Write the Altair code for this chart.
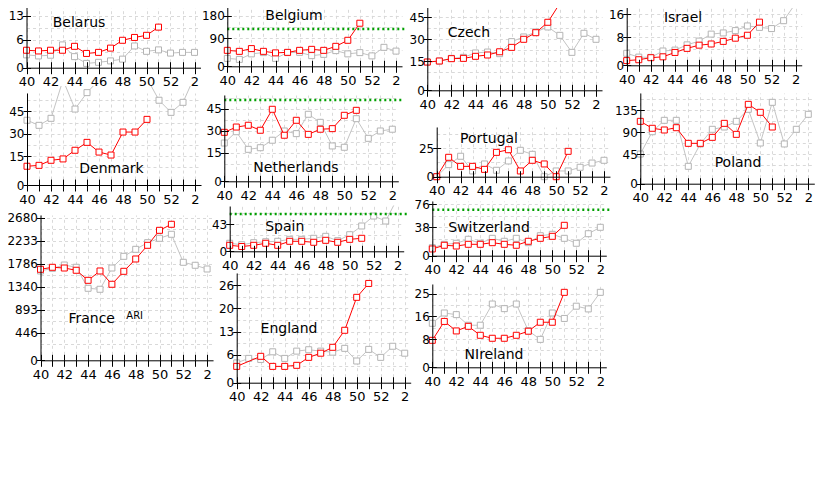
import altair as alt
import pandas as pd

W, H = 824, 464
M = 8          # page margin
XMAX = 14.5
FONT = "DejaVu Sans"
RED = "#ff0000"
GRAY_LINE = "#c4c4c4"
GRAY_PT = "#b4b4b4"
GREEN = "#00a000"
GRID = "#d9d9d9"

# week positions 0..14
WEEK_LABELS = ["40", "41", "42", "43", "44", "45", "46", "47", "48", "49",
               "50", "51", "52", "1", "2"]

# ---------------- data ----------------
BELARUS_RED = [3.7, 3.5, 3.7, 3.7, 4.8, 2.8, 3.1, 4.3, 6.5, 7.3, 7.9, 10.2]
BELARUS_GRAY = [2.4, 2.1, 2.3, 5.2, 1.9, 0.0, 0.3, 0.7, 1.2, 4.9, 3.4, 3.8, 2.9, 3.1, 3.1]

BELGIUM_RED = [42, 38, 49, 38, 32, 34, 42, 46, 42, 58, 82, 150]
BELGIUM_GRAY = [10, 6, 28, 33, 10, 33, 34, 21, 26, 41, 28, 33, 20, 54, 39]
BELGIUM_THR = 127

CZECH_RED = [14.5, 15.2, 16.8, 17.0, 18.4, 19.3, 21.5, 24.5, 30.0, 34.5, 41.6, 54.5]
CZECH_GRAY = [14.5, 15.2, 17.0, 17.7, 20.7, 21.3, 20.2, 28.4, 31.6, 35.0, 38.4, 32.7, 21.1, 34.1, 30.0]

ISRAEL_RED = [0.0, 0.3, 1.0, 1.3, 2.8, 4.2, 5.3, 5.7, 6.6, 7.7, 8.7, 13.2]
ISRAEL_GRAY = [2.5, 1.2, 1.1, 3.3, 3.6, 5.4, 6.7, 9.1, 9.5, 10.3, 11.9, 11.4, 11.0, 13.7, 19.7]

DENMARK_RED = [8.2, 8.8, 12.2, 13.1, 18.9, 24.2, 17.7, 15.7, 31.1, 31.1, 39.6]
DENMARK_GRAY = [39.0, 35.6, 40.3, 66, 46.5, 57.5, 66, 69, 70, 69, 67, 52.4, 44.3, 51.0, 69]

NETHERLANDS_RED = [28.9, 32.5, 33.7, 30.3, 44.6, 26.9, 37.1, 27.5, 31.0, 31.4, 40.5, 43.9]
NETHERLANDS_GRAY = [21.6, 29.3, 17.3, 18.4, 23.5, 29.8, 28.0, 41.2, 35.7, 19.6, 18.7, 38.2, 24.8, 29.8, 31.0]
NETHERLANDS_THR = 51

PORTUGAL_RED = [0, 16.9, 9.0, 9.0, 6.4, 21.2, 23.5, 5.0, 14.3, 11.1, 0, 22.1]
PORTUGAL_GRAY = [0, 10.5, 17.8, 5.0, 11.1, 5.6, 13.7, 23.0, 19.5, 0, 5.0, 5.0, 8.2, 11.9, 14.3]

POLAND_RED = [111.8, 97.6, 94.1, 98.8, 66.8, 66.8, 79.1, 107.7, 85.2, 146.6, 130.3, 100.2]
POLAND_GRAY = [45, 90.6, 113.9, 113.9, 19.8, 65.5, 95.5, 100.2, 111.8, 136.4, 67.5, 150.7, 65.5, 95.5, 126.2]

FRANCE_RED = [1678, 1717, 1703, 1659, 1464, 1645, 1387, 1639, 1878, 2144, 2435, 2552]
FRANCE_GRAY = [1645, 1697, 1761, 1717, 1309, 1290, 1703, 1930, 2066, 2195, 2280, 2358, 1814, 1756, 1684]

SPAIN_RED = [2.3, 0, 2.3, 6.2, 2.3, 10.0, 10.0, 8.1, 11.9, 8.1, 13.8, 15.8]
SPAIN_GRAY = [6.2, 3.4, 7.3, 9.2, 10.0, 13.8, 13.8, 15.8, 19.6, 11.2, 22.7, 39.5, 58.7, 49.1, 94]
SPAIN_THR = 62.6

SWITZ_RED = [2.2, 8.3, 7.1, 9.9, 9.9, 12.6, 9.9, 8.3, 14.9, 19.8, 23.1, 41.3]
SWITZ_GRAY = [4.3, 9.9, 11.6, 18.2, 11.6, 19.8, 14.9, 19.8, 12.6, 24.1, 26.4, 19.8, 11.6, 27.4, 38.0]
SWITZ_THR = 67.1

ENGLAND_RED = [3.3, None, 6.2, 3.3, 3.3, 3.6, 5.9, 7.1, 8.8, 13.7, 23.2, 27.2]
ENGLAND_GRAY = [4.3, 5.6, 5.3, 7.5, 5.6, 7.7, 8.1, 7.7, 7.4, 8.5, 4.85, 8.2, 5.9, 9.1, 7.1]

NIRELAND_RED = [7.85, 14.8, 11.3, 13.0, 9.7, 8.6, 8.6, 9.7, 11.2, 14.5, 14.5, 25.5]
NIRELAND_GRAY = [14.1, 17.9, 17.3, 13.4, 13.4, 21.2, 19.5, 21.2, 11.4, 8.2, 17.9, 15.9, 20.4, 19.4, 25.5]

# ---------------- layout (page pixels) ----------------
# x0, px per week, axis baseline, tick ref a, tick ref b, top of panel, tick step
PANELS = [
    dict(red=BELARUS_RED, gray=BELARUS_GRAY, thr=None,
         lay=(26.5, 12.0, 67.7, (6.667, 39.7), (13.333, 16.0), 5.0, 6.667),
         texts=[("Belarus", 79, 26.5, 14)]),
    dict(red=BELGIUM_RED, gray=BELGIUM_GRAY, thr=BELGIUM_THR,
         lay=(227.3, 12.05, 66.3, (90, 38.3), (180, 15.7), 3.5, 90),
         texts=[("Belgium", 294, 19.5, 14)]),
    dict(red=CZECH_RED, gray=CZECH_GRAY, thr=None,
         lay=(427.3, 12.05, 90.3, (30, 39.3), (45, 17.3), 1.0, 15),
         texts=[("Czech", 469, 36.5, 14)]),
    dict(red=ISRAEL_RED, gray=ISRAEL_GRAY, thr=None,
         lay=(626.7, 12.07, 65.3, (8, 37.3), (16, 14.0), 2.0, 8),
         texts=[("Israel", 683, 22, 14)]),
    dict(red=DENMARK_RED, gray=DENMARK_GRAY, thr=None,
         lay=(27.0, 12.0, 185.0, (30, 133.7), (45, 111.3), 93.0, 15),
         texts=[("Denmark", 111.5, 173, 14)], mask=(8, 204, 68.8, 86.0)),
    dict(red=NETHERLANDS_RED, gray=NETHERLANDS_GRAY, thr=NETHERLANDS_THR,
         lay=(224.3, 12.0, 181.3, (30, 130.7), (45, 108.7), 95.0, 15),
         texts=[("Netherlands", 296, 172, 14)]),
    dict(red=PORTUGAL_RED, gray=PORTUGAL_GRAY, thr=None,
         lay=(436.7, 11.95, 176.7, (0, 176.7), (25, 148.0), 127.0, 25),
         texts=[("Portugal", 489, 143, 14)]),
    dict(red=POLAND_RED, gray=POLAND_GRAY, thr=None,
         lay=(640.3, 12.0, 183.7, (90, 132.0), (135, 110.0), 93.0, 45),
         texts=[("Poland", 738, 166.5, 14)]),
    dict(red=FRANCE_RED, gray=FRANCE_GRAY, thr=None,
         lay=(40.5, 11.9, 360.3, (446.667, 332.7), (2680, 217.7), 215.0, 446.667),
         texts=[("France", 91.7, 323, 14), ("ARI", 134.7, 318.5, 10)]),
    dict(red=SPAIN_RED, gray=SPAIN_GRAY, thr=SPAIN_THR,
         lay=(229.7, 12.0, 251.3, (43.333, 224.0), (86.667, 201.5), 206.0, 43.333),
         texts=[("Spain", 284.7, 231, 14)], mask=(215, 412, 187.5, 205.5)),
    dict(red=SWITZ_RED, gray=SWITZ_GRAY, thr=SWITZ_THR,
         lay=(432.3, 12.0, 255.7, (38, 227.3), (76, 204.3), 201.0, 38),
         texts=[("Switzerland", 489, 231.5, 14)]),
    dict(red=ENGLAND_RED, gray=ENGLAND_GRAY, thr=None,
         lay=(236.7, 12.0, 382.7, (6.667, 354.7), (26.667, 285.3), 273.0, 6.667),
         texts=[("England", 289, 333, 14)]),
    dict(red=NIRELAND_RED, gray=NIRELAND_GRAY, thr=None,
         lay=(432.3, 12.0, 367.3, (8.333, 339.0), (25, 293.7), 284.0, 8.333),
         texts=[("NIreland", 494, 359, 14)]),
]

X_SHOWN = [w if i % 2 == 0 else "" for i, w in enumerate(WEEK_LABELS)]
X_LABEL_EXPR = "[" + ",".join("'%s'" % s for s in X_SHOWN) + "][round(datum.value)]"
Y_LABEL_EXPR = "datum.value <= 0.0001 ? '0' : '' + floor(datum.value + 0.001)"

common = dict(title=None, zindex=1, domainColor="black", tickColor="black",
              labelColor="black", labelFont=FONT,
              domainWidth=1, tickWidth=1)


def make_panel(p):
    x0, dx, ybase, (va, ya), (vb, yb), ytop, step = p["lay"]
    X0, Yb, Yt = x0 - M, ybase - M, ytop - M
    pxu = (ya - yb) / (vb - va)
    lo = va - (ybase - ya) / pxu
    vtop = vb + (yb - ytop) / pxu
    xs = alt.Scale(domain=[0, XMAX], range=[X0, X0 + XMAX * dx], nice=False, zero=False)
    ys = alt.Scale(domain=[lo, vtop], range=[Yb, Yt], nice=False, zero=False)
    yticks = [lo] + [k * step for k in range(1, 30) if k * step <= vtop + 1e-6]
    ygrid = [k * step / 2 for k in range(1, 60) if k * step / 2 <= vtop]
    xticks = list(range(len(WEEK_LABELS)))

    ax_x_main = alt.Axis(orient="bottom", offset=Yb - H, values=xticks,
                         labelExpr=X_LABEL_EXPR, tickSize=6, labelPadding=2,
                         labelFontSize=13,
                         grid=False, labelFlush=False, labelOverlap=False,
                         labelBound=False, **common)
    ax_x_tick = alt.Axis(orient="top", offset=-Yb, values=xticks, labels=False,
                         domain=False, tickSize=6, grid=False, **common)
    ax_x_grid = alt.Axis(orient="top", offset=-Yb, values=xticks, labels=False,
                         domain=False, ticks=False, grid=True, gridColor=GRID,
                         gridDash=[3, 3], gridWidth=1, title=None, zindex=0)
    ax_y_main = alt.Axis(orient="left", offset=-X0, values=yticks,
                         labelExpr=Y_LABEL_EXPR, tickSize=4, labelPadding=-1,
                         labelFontSize=12,
                         grid=False, labelOverlap=False, labelBound=False,
                         labelFlush=False, **common)
    ax_y_tick = alt.Axis(orient="right", offset=X0 - W, values=yticks, labels=False,
                         domain=False, tickSize=4, grid=False, **common)
    ax_y_grid = alt.Axis(orient="left", offset=-X0, values=ygrid, labels=False,
                         domain=False, ticks=False, grid=True, gridColor=GRID,
                         gridDash=[3, 3], gridWidth=1, title=None, zindex=0)

    gray_df = pd.DataFrame({"pos": list(range(len(p["gray"]))), "v": p["gray"]}).dropna()
    red_df = pd.DataFrame({"pos": list(range(len(p["red"]))), "v": p["red"]}).dropna()

    sub = []
    sub.append(alt.Chart(gray_df).mark_line(color=GRAY_LINE, strokeWidth=1).encode(
        x=alt.X("pos:Q", scale=xs, axis=ax_x_main),
        y=alt.Y("v:Q", scale=ys, axis=ax_y_main)))
    sub.append(alt.Chart(gray_df).mark_point(
        shape="square", size=36, filled=False, fill="white", fillOpacity=1,
        stroke=GRAY_PT, strokeWidth=1, opacity=1).encode(
        x=alt.X("pos:Q", scale=xs, axis=ax_x_tick),
        y=alt.Y("v:Q", scale=ys, axis=ax_y_tick)))
    if p.get("mask"):
        mx1, mx2, my1, my2 = p["mask"]
        sub.append(alt.Chart(pd.DataFrame({"m": [0]})).mark_rect(
            color="white", opacity=1).encode(
            x=alt.value(mx1 - M), x2=alt.value(mx2 - M),
            y=alt.value(my1 - M), y2=alt.value(my2 - M)))
    if p["thr"] is not None:
        thr_df = pd.DataFrame({"a": [0], "b": [14.8], "t": [p["thr"]]})
        sub.append(alt.Chart(thr_df).mark_rule(
            color=GREEN, strokeWidth=2.5, strokeDash=[2, 3]).encode(
            x=alt.X("a:Q", scale=xs, axis=None), x2="b:Q",
            y=alt.Y("t:Q", scale=ys, axis=None)))
    sub.append(alt.Chart(red_df).mark_line(color=RED, strokeWidth=1).encode(
        x=alt.X("pos:Q", scale=xs, axis=ax_x_grid),
        y=alt.Y("v:Q", scale=ys, axis=ax_y_grid)))
    sub.append(alt.Chart(red_df).mark_point(
        shape="square", size=36, filled=False, fill="white", fillOpacity=1,
        stroke=RED, strokeWidth=1, opacity=1).encode(
        x=alt.X("pos:Q", scale=xs, axis=None),
        y=alt.Y("v:Q", scale=ys, axis=None)))
    for txt, cx, cy, fs in p["texts"]:
        sub.append(alt.Chart(pd.DataFrame({"t": [txt]})).mark_text(
            font=FONT, fontSize=fs, color="black", align="center",
            baseline="alphabetic").encode(
            text="t:N", x=alt.value(cx - M), y=alt.value(cy - M)))
    return alt.layer(*sub).resolve_axis(x="independent", y="independent")


panels = [make_panel(p) for p in PANELS]

chart = alt.layer(*panels).resolve_scale(
    x="independent", y="independent"
).resolve_axis(
    x="independent", y="independent"
).properties(
    width=W, height=H, padding=0,
    autosize=alt.AutoSizeParams(type="none"),
).configure_view(stroke=None)

chart.save("out.html", embed_options={"renderer": "svg", "actions": False})
